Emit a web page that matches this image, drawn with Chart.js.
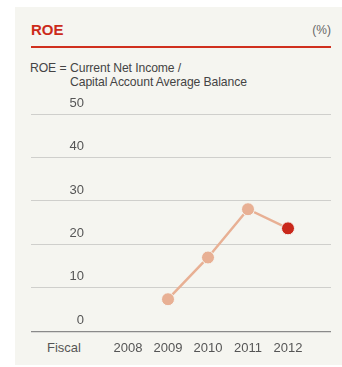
<!DOCTYPE html>
<html>
<head>
<meta charset="utf-8">
<script src="https://cdn.jsdelivr.net/npm/chart.js@4/dist/chart.umd.min.js"></script>
<style>
  html, body { margin: 0; padding: 0; background: #fff; }
  body { width: 342px; height: 367px; position: relative; overflow: hidden; font-family: "Liberation Sans", Arial, sans-serif; }
  #panel { position: absolute; left: 15px; top: 7px; width: 327px; height: 358px; background: #f5f5f0; }
  #title { position: absolute; left: 31px; top: 21px; font-size: 15px; font-weight: bold; color: #cc2a1a; }
  #unit { position: absolute; right: 11px; top: 23px; font-size: 12px; color: #666; }
  #rule { position: absolute; left: 31px; top: 46px; width: 300px; height: 2px; background: #d0301e; }
  .note { position: absolute; font-size: 12.2px; line-height: 14px; color: #444; letter-spacing: -0.1px; }
  #fiscal { position: absolute; left: 47px; top: 340px; font-size: 13px; color: #555; }
  #chart { position: absolute; left: 0; top: 0; }
</style>
</head>
<body>
<div id="panel"></div>
<div id="title">ROE</div>
<div id="unit">(%)</div>
<div id="rule"></div>
<div class="note" style="left:30px; top:61px;">ROE =</div>
<div class="note" style="left:70px; top:61px;">Current Net Income /</div>
<div class="note" style="left:70px; top:75px;">Capital Account Average Balance</div>
<div id="fiscal">Fiscal</div>
<canvas id="chart" width="342" height="367"></canvas>
<script>
const years = [2008, 2009, 2010, 2011, 2012];
const roe = [null, 7.4, 17.0, 28.1, 23.7];
const yTicks = [0, 10, 20, 30, 40, 50];

const lightColor = '#e8b094';
const lastColor = '#c9281b';

// y labels sit just above their gridline, right-aligned
const yLabels = {
    id: 'yLabels',
    afterDraw(chart) {
        const ctx = chart.ctx;
        const y = chart.scales.y;
        ctx.save();
        ctx.font = '13px "Liberation Sans", Arial, sans-serif';
        ctx.fillStyle = '#555';
        ctx.textAlign = 'right';
        ctx.textBaseline = 'middle';
        yTicks.forEach((v) => {
            ctx.fillText(String(v), 84, y.getPixelForValue(v) - 11);
        });
        ctx.restore();
    }
};

new Chart(document.getElementById('chart'), {
    type: 'line',
    data: {
        datasets: [{
            data: years.map((yr, i) => ({x: yr, y: roe[i]})),
            borderColor: lightColor,
            borderWidth: 2.5,
            pointRadius: 6.5,
            pointBorderWidth: 1,
            pointBorderColor: '#f5f5f0',
            pointBackgroundColor: years.map((yr, i) => i === years.length - 1 ? lastColor : lightColor),
            spanGaps: false
        }]
    },
    options: {
        responsive: false,
        animation: false,
        layout: {padding: {left: 31, right: 11, top: 114, bottom: 2}},
        plugins: {legend: {display: false}, tooltip: {enabled: false}},
        scales: {
            x: {
                type: 'linear',
                min: 2005.575,
                max: 2013.075,
                afterBuildTicks: (s) => { s.ticks = years.map((v) => ({value: v})); },
                ticks: {
                    callback: (v) => String(v),
                    color: '#555',
                    font: {family: '"Liberation Sans", Arial, sans-serif', size: 13},
                    padding: 9,
                    maxRotation: 0,
                    autoSkip: false
                },
                grid: {display: false, drawTicks: false},
                border: {display: false}
            },
            y: {
                min: 0,
                max: 50,
                afterBuildTicks: (s) => { s.ticks = yTicks.map((v) => ({value: v})); },
                ticks: {display: false},
                grid: {
                    drawTicks: false,
                    color: (c) => c.tick && c.tick.value === 0 ? '#8a8a8a' : '#cfcfcc',
                    lineWidth: (c) => c.tick && c.tick.value === 0 ? 1.2 : 1
                },
                border: {display: false}
            }
        }
    },
    plugins: [yLabels]
});
</script>
</body>
</html>
